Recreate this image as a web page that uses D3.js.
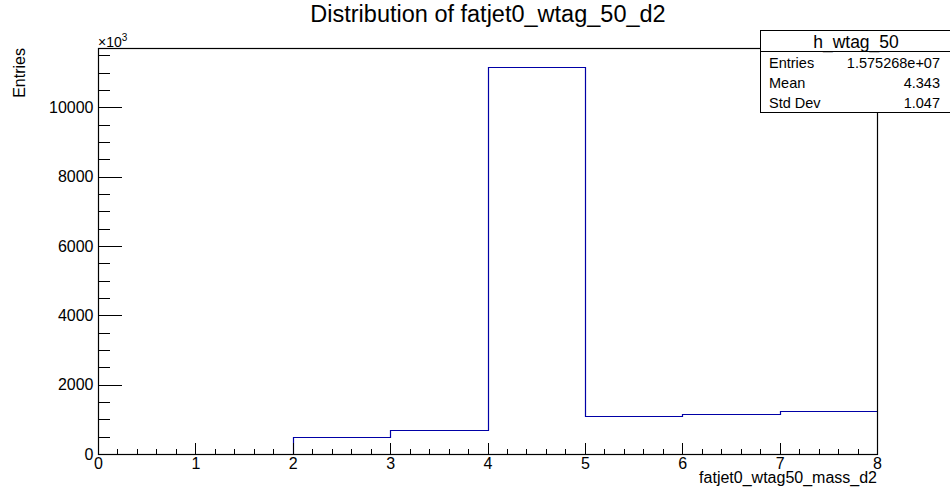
<!DOCTYPE html>
<html><head><meta charset="utf-8">
<script src="https://cdn.jsdelivr.net/npm/d3@7"></script>
<style>
body{margin:0;background:#fff;}
svg{font-family:"Liberation Sans",Arial,Helvetica,sans-serif;}
</style></head>
<body><svg id="c" width="950" height="492"></svg>
<script>
// ---- data (values in thousands of entries) ----
const binEdges = [0,1,2,3,4,5,6,7,8];
const binValues = [0,0,490,700,11156,1090,1150,1228];
const xTicks = [0,1,2,3,4,5,6,7,8];
const yTicks = [0,2000,4000,6000,8000,10000];
const statLabels = ["Entries","Mean","Std Dev"];
const statValues = ["1.575268e+07","4.343","1.047"];
const histName = "h_wtag_50";
const titleText = "Distribution of fatjet0_wtag_50_d2";
const xTitle = "fatjet0_wtag50_mass_d2";
const yTitle = "Entries";
const yMax = 11714;

const svg = d3.select("#c");
const L=98,R=877,T=48,B=454;
const x = d3.scaleLinear().domain([0,8]).range([L,R]);
const y = d3.scaleLinear().domain([0,yMax]).range([B,T]);

// histogram (drawn first, axes/frame on top like ROOT)
let p = [];
p.push([binEdges[0],0]);
binValues.forEach((v,i)=>{p.push([binEdges[i],v]);p.push([binEdges[i+1],v]);});
svg.append("path").attr("d",d3.line().x(d=>Math.round(x(d[0]))+0.5).y(d=>Math.round(y(d[1]))+0.5)(p))
  .attr("fill","none").attr("stroke","#0000a6").attr("stroke-width",1.2);

// frame
svg.append("rect").attr("x",L+0.5).attr("y",T+0.5).attr("width",R-L).attr("height",B-T)
  .attr("fill","none").attr("stroke","#000").attr("stroke-width",1.2);

// x axis
const xMinor = d3.range(0,8.0001,0.2).filter(v=>Math.abs(v-Math.round(v))>1e-6);
const gx = svg.append("g").attr("transform",`translate(0,${B+0.5})`);
gx.call(d3.axisBottom(x).tickValues(xTicks).tickSizeInner(-12).tickSizeOuter(0).tickPadding(3).tickFormat(d3.format("d")));
gx.append("g").call(d3.axisBottom(x).tickValues(xMinor).tickSizeInner(-6).tickSizeOuter(0).tickFormat(""));
gx.selectAll(".domain").remove();

// y axis
const yMinor = d3.range(0,yMax,500).filter(v=>v%2000!==0);
const gy = svg.append("g").attr("transform",`translate(${L+0.5},0)`);
gy.call(d3.axisLeft(y).tickValues(yTicks).tickSizeInner(-23).tickSizeOuter(0).tickPadding(5).tickFormat(d3.format("d")));
gy.append("g").call(d3.axisLeft(y).tickValues(yMinor).tickSizeInner(-11).tickSizeOuter(0).tickFormat(""));
gy.selectAll(".domain").remove();

svg.selectAll(".tick line").attr("stroke","#000").attr("shape-rendering","crispEdges");
svg.selectAll(".tick text").attr("font-size",16).attr("fill","#000").attr("font-family","Liberation Sans, Arial, sans-serif");

// x10^3
const ex = svg.append("text").attr("x",L).attr("y",46.5).attr("font-size",14);
ex.append("tspan").text("×10");
ex.append("tspan").attr("font-size",10).attr("dy",-6).text("3");

// titles
svg.append("text").attr("x",488).attr("y",22).attr("text-anchor","middle").attr("font-size",23.5).text(titleText);
svg.append("text").attr("x",R).attr("y",483).attr("text-anchor","end").attr("font-size",16).text(xTitle);
svg.append("text").attr("transform","translate(25,48) rotate(-90)").attr("text-anchor","end").attr("font-size",16).text(yTitle);

// stats box
const sb = svg.append("g");
sb.append("rect").attr("x",760.5).attr("y",30.5).attr("width",200).attr("height",82)
  .attr("fill","#fff").attr("stroke","#000").attr("stroke-width",1);
sb.append("line").attr("x1",760).attr("x2",950).attr("y1",51.5).attr("y2",51.5).attr("stroke","#000");
sb.append("text").attr("x",856).attr("y",47.5).attr("text-anchor","middle").attr("font-size",17.5).text(histName);
const rowY = [68.3,88.3,107.7];
statLabels.forEach((s,i)=>{
  sb.append("text").attr("x",769).attr("y",rowY[i]).attr("font-size",14.5).text(s);
  sb.append("text").attr("x",940).attr("y",rowY[i]).attr("text-anchor","end").attr("font-size",14.5).text(statValues[i]);
});
</script></body></html>
